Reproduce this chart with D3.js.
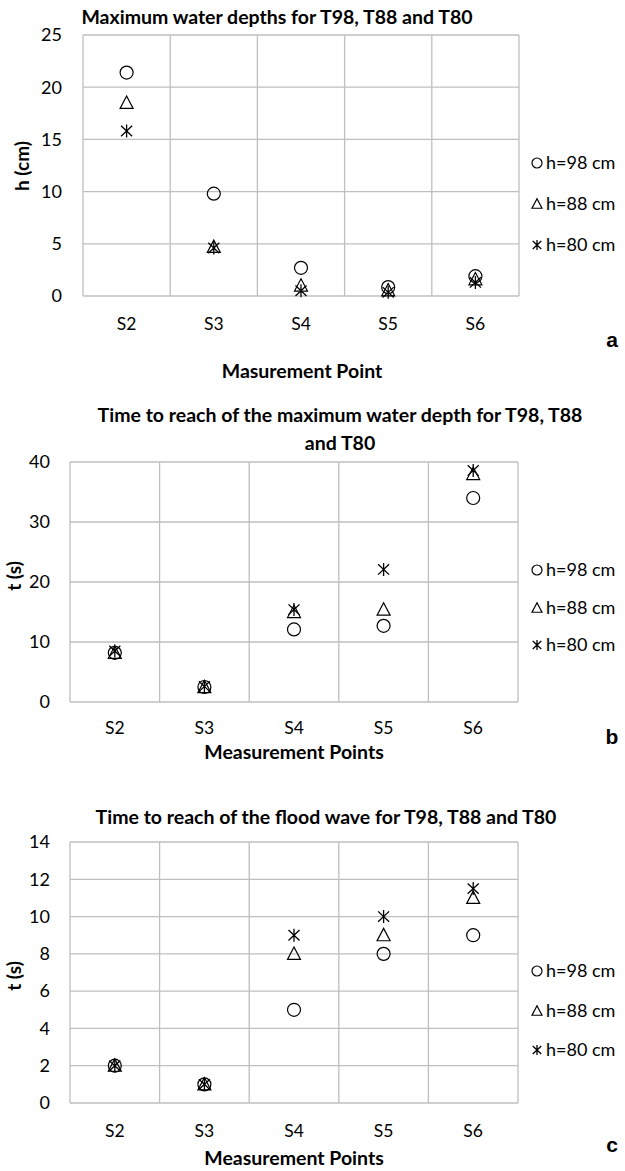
<!DOCTYPE html>
<html>
<head>
<meta charset="utf-8">
<script src="https://cdn.jsdelivr.net/npm/d3@7"></script>
<style>
  body { margin: 0; background: #fff; }
  text { font-family: Lato, "Open Sans", sans-serif; fill: #000; }
</style>
</head>
<body>
<script>
// measurement points
var categories = ["S2", "S3", "S4", "S5", "S6"];
var seriesNames = ["h=98 cm", "h=88 cm", "h=80 cm"];

// a: maximum water depths (cm)
var depth98 = [21.4, 9.8, 2.7, 0.85, 1.9];
var depth88 = [18.5, 4.7, 1.0, 0.55, 1.6];
var depth80 = [15.8, 4.6, 0.5, 0.35, 1.3];

// b: time to reach max depth (s)
var peak98 = [8.2, 2.5, 12.1, 12.7, 34.0];
var peak88 = [8.2, 2.5, 15.0, 15.4, 38.0];
var peak80 = [8.5, 2.6, 15.4, 22.1, 38.6];

// c: time to reach of the flood wave (s)
var wave98 = [2, 1, 5, 8, 9];
var wave88 = [2, 1, 8, 9, 11];
var wave80 = [2, 1, 9, 10, 11.5];

var ticksA = [0, 5, 10, 15, 20, 25];
var ticksB = [0, 10, 20, 30, 40];
var ticksC = [0, 2, 4, 6, 8, 10, 12, 14];

var width = 625, height = 1171;
var svg = d3.select("body").append("svg")
  .attr("width", width)
  .attr("height", height);

var panels = [
  { series: [depth98, depth88, depth80], ticks: ticksA,
    left: 83, right: 519, top: 35, bottom: 296, tickX: 62,
    title: ["Maximum water depths for T98, T88 and T80"], titleX: 277, titleY: 24,
    yTitle: "h (cm)", yTitleX: 29, yTitleY: 166,
    xTitle: "Masurement Point", xTitleX: 302, xTitleY: 378, labelY: 330,
    letter: "a", letterY: 347, legendY: [163, 204, 245] },
  { series: [peak98, peak88, peak80], ticks: ticksB,
    left: 70, right: 518, top: 462, bottom: 702, tickX: 50,
    title: ["Time to reach of the maximum water depth for T98, T88", "and T80"], titleX: 340, titleY: 422,
    yTitle: "t (s)", yTitleX: 21, yTitleY: 576,
    xTitle: "Measurement Points", xTitleX: 294, xTitleY: 759, labelY: 734,
    letter: "b", letterY: 744, legendY: [570, 608, 645] },
  { series: [wave98, wave88, wave80], ticks: ticksC,
    left: 70, right: 518, top: 842, bottom: 1103, tickX: 50,
    title: ["Time to reach of the flood wave for T98, T88 and T80"], titleX: 326, titleY: 824,
    yTitle: "t (s)", yTitleX: 21, yTitleY: 976,
    xTitle: "Measurement Points", xTitleX: 294, xTitleY: 1165, labelY: 1137,
    letter: "c", letterY: 1152, legendY: [971, 1011, 1050] }
];

var gridColor = "#bfbfbf";

function drawMarker(g, kind, size) {
  var s = size;
  if (kind === 0) {
    g.append("circle").attr("r", s).attr("fill", "none")
      .attr("stroke", "#000").attr("stroke-width", 1.2);
  } else if (kind === 1) {
    var pts = [[0, -s * 1.05], [s, s * 0.85], [-s, s * 0.85]];
    g.append("path").attr("d", "M" + pts.join("L") + "Z")
      .attr("fill", "none").attr("stroke", "#000").attr("stroke-width", 1.2);
  } else {
    g.append("path")
      .attr("d", "M0," + (-s) + "L0," + s +
        "M" + (-s * 0.85) + "," + (-s * 0.8) + "L" + (s * 0.85) + "," + (s * 0.8) +
        "M" + (-s * 0.85) + "," + (s * 0.8) + "L" + (s * 0.85) + "," + (-s * 0.8))
      .attr("fill", "none").attr("stroke", "#000").attr("stroke-width", 1.3);
  }
}

panels.forEach(function(p) {
  var x = d3.scaleBand().domain(categories).range([p.left, p.right]);
  var y = d3.scaleLinear().domain([0, d3.max(p.ticks)]).range([p.bottom, p.top]);
  var g = svg.append("g");

  // horizontal grid
  g.selectAll(".hg").data(p.ticks).enter().append("line")
    .attr("x1", p.left).attr("x2", p.right)
    .attr("y1", function(d) { return y(d); }).attr("y2", function(d) { return y(d); })
    .attr("stroke", gridColor).attr("stroke-width", 1.3);

  // vertical grid at category boundaries
  var bounds = categories.map(function(c) { return x(c); }).concat([p.right]);
  g.selectAll(".vg").data(bounds).enter().append("line")
    .attr("x1", function(d) { return d; }).attr("x2", function(d) { return d; })
    .attr("y1", p.top).attr("y2", p.bottom)
    .attr("stroke", gridColor).attr("stroke-width", 1.3);

  // y tick labels
  g.selectAll(".yt").data(p.ticks).enter().append("text")
    .attr("x", p.tickX).attr("y", function(d) { return y(d); })
    .attr("dy", "0.35em").attr("text-anchor", "end")
    .style("font-size", "18px").text(function(d) { return d; });

  // x labels
  g.selectAll(".xt").data(categories).enter().append("text")
    .attr("x", function(d) { return x(d) + x.bandwidth() / 2; })
    .attr("y", p.labelY).attr("text-anchor", "middle")
    .style("font-size", "17.5px").text(function(d) { return d; });

  // title
  p.title.forEach(function(line, i) {
    g.append("text").attr("x", p.titleX).attr("y", p.titleY + i * 28)
      .attr("text-anchor", "middle").style("font-size", "19.5px")
      .style("font-weight", "bold").text(line);
  });

  // axis titles
  g.append("text")
    .attr("transform", "translate(" + p.yTitleX + "," + p.yTitleY + ") rotate(-90)")
    .attr("text-anchor", "middle").style("font-size", "19px")
    .style("font-weight", "bold").text(p.yTitle);
  g.append("text").attr("x", p.xTitleX).attr("y", p.xTitleY)
    .attr("text-anchor", "middle").style("font-size", "19.5px")
    .style("font-weight", "bold").text(p.xTitle);

  // panel letter
  g.append("text").attr("x", 612).attr("y", p.letterY)
    .attr("text-anchor", "middle")
    .style("font-family", "'Liberation Sans', Arial, sans-serif")
    .style("font-size", "21px").style("font-weight", "bold").text(p.letter);

  // markers
  p.series.forEach(function(vals, k) {
    vals.forEach(function(v, i) {
      var m = g.append("g").attr("transform", "translate(" +
        (x(categories[i]) + x.bandwidth() / 2) + "," + y(v) + ")");
      drawMarker(m, k, 6.5);
    });
  });

  // legend
  seriesNames.forEach(function(name, k) {
    var lg = g.append("g").attr("transform", "translate(537," + p.legendY[k] + ")");
    drawMarker(lg, k, 5);
    lg.append("text").attr("x", 9).attr("dy", "0.35em")
      .style("font-size", "18px").text(name);
  });
});
</script>
</body>
</html>
